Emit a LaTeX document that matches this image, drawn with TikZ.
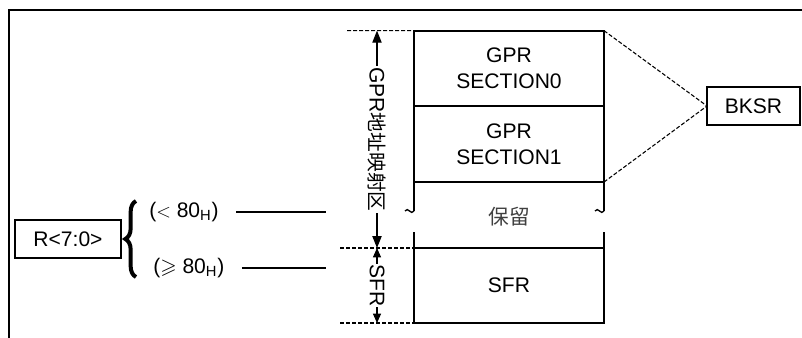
\documentclass[tikz,border=0pt]{standalone}
\usepackage{amsmath,amssymb}
\usepackage{fontspec}
\setmainfont{Liberation Sans}
\newfontfamily\cjk{Noto Sans CJK SC}
\usepackage{tikz}
\usetikzlibrary{arrows.meta,positioning,decorations.pathreplacing}

\begin{document}
\begin{tikzpicture}[x=0.75pt,y=-0.75pt,>={Triangle[length=9pt,width=7pt]},
  font=\fontsize{15.8}{19.3}\selectfont,line join=miter,
  cell/.style={draw,line width=1.5pt,minimum width=142.5pt,inner sep=0pt,outer sep=0pt,align=center},
  regbox/.style={draw,line width=1.1pt,minimum height=28.5pt,inner sep=0pt,outer sep=0pt},
  guide/.style={dash pattern=on 3pt off 1.5pt,line width=0.8pt},
  tick/.style={line width=0.8pt}]
\useasboundingbox (0,0) rectangle (802,338);
% outer frame
\draw[line width=1.5pt] (9,345) -- (9,10) -- (810,10);
% memory map
\node[cell,minimum height=56.5pt] (sec0) at (509,68.35) {GPR\\SECTION0};
\node[cell,minimum height=57pt,below=0pt of sec0] (sec1) {GPR\\SECTION1};
\node[cell,minimum height=56.25pt] (sfr) at (509,285.5) {SFR};
\node[font=\cjk\fontsize{15.5}{18}\selectfont,text=black!75] (rsv) at (509,217) {保留};
% reserved part, broken
\coordinate (rl) at (414,211);
\coordinate (rr) at (604,211);
\draw[line width=1.5pt] (sec1.south west) -- (rl);
\draw[line width=1.5pt] (sec1.south east) -- (rr);
\draw[line width=1pt] (rl) .. controls (411,216) and (408,206) .. (405,211);
\draw[line width=1pt] (rr) .. controls (601,216) and (598,206) .. (595,211);
\coordinate (bl) at (414,232);
\coordinate (br) at (604,232);
\draw[line width=1.5pt] (bl) -- (sfr.north west);
\draw[line width=1.5pt] (br) -- (sfr.north east);
% extension lines
\coordinate (g0) at (347,30.7);
\coordinate (g1) at (340,248);
\coordinate (g2) at (340,323);
\draw[guide] (g0) -- (sec0.north west);
\draw[guide] (g1) -- (sfr.north west);
\draw[guide] (g2) -- (sfr.south west);
% ranges
\coordinate (a0) at (377,30.7);
\coordinate (a1) at (377,248);
\coordinate (a2) at (377,323);
\draw[<->,line width=0.8pt] (a0) -- (a1)
  node[midway,rotate=-90,fill=white,inner sep=1pt] (gprlbl) {GPR{\cjk\fontsize{14.8}{16}\selectfont 地址映射区}};
\draw[{Triangle[length=7pt,width=6pt]}-{Triangle[length=7pt,width=6pt]},line width=0.8pt] (a1) -- (a2)
  node[midway,rotate=-90,fill=white,inner sep=0.5pt] (sfrlbl) {SFR};
% bank select
\node[regbox,minimum width=69.75pt] (bksr) at (753.5,106) {BKSR};
\draw[guide] (sec0.north east) -- (bksr.west);
\draw[guide] (sec1.south east) -- (bksr.west);
% address register
\node[regbox,minimum width=79.5pt] (rreg) at (68,239) {R<7:0>};
\draw[decorate,decoration={brace,amplitude=8pt},line width=3pt] (136,277) -- (136,201);
\node[anchor=west,inner sep=0pt] (lt) at (149,212) {({$<$} 80\textsubscript{H})};
\node[anchor=west,inner sep=0pt] (ge) at (153,268) {({$\geqslant$} 80\textsubscript{H})};
\coordinate (lte) at (326,212);
\coordinate (gee) at (326,268);
\draw[tick] ([xshift=13pt]lt.east) -- (lte);
\draw[tick] ([xshift=13pt]ge.east) -- (gee);
\end{tikzpicture}
\end{document}
